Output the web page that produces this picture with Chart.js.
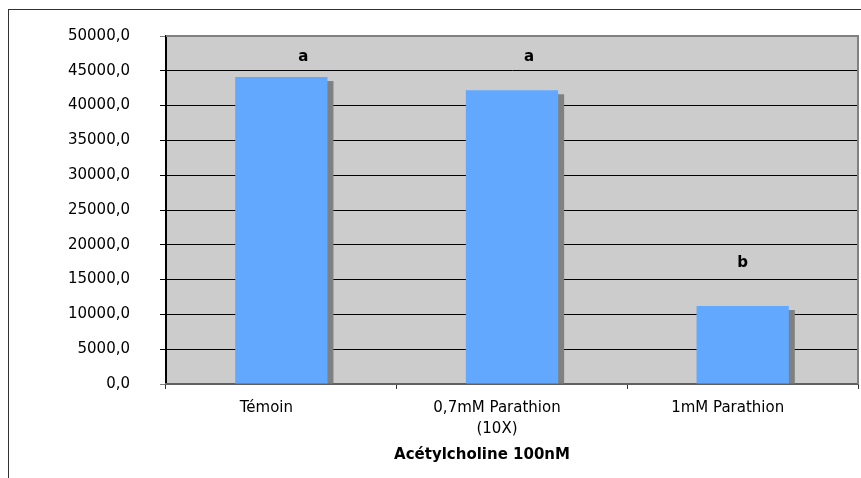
<!DOCTYPE html>
<html>
<head>
<meta charset="utf-8">
<script src="https://cdn.jsdelivr.net/npm/chart.js@4/dist/chart.umd.min.js"></script>
<style>
  html, body { margin: 0; padding: 0; background: #fff; overflow: hidden; }
  #frame {
    position: absolute; left: 8px; top: 9px;
    width: 1000px; height: 1000px;
    border: 1px solid #333;
  }
  #wrap { position: absolute; left: 9px; top: 10px; width: 946px; height: 470px; }
</style>
</head>
<body>
<div id="frame"></div>
<div id="wrap"><canvas id="chart"></canvas></div>
<script>
// data
const categories = ["Témoin", ["0,7mM Parathion", "(10X)"], "1mM Parathion"];
const values = [44100, 42200, 11200];
const sigLetters = ["a", "a", "b"];
const sigLevels = [47000, 47000, 17300];
const axisTitle = "Acétylcholine 100nM";

const FONT = "'DejaVu Sans', Verdana, sans-serif";

// grey plot background + frame
const plotBg = {
  id: "plotBg",
  beforeDraw(chart) {
    const { ctx, chartArea: a } = chart;
    ctx.save();
    ctx.fillStyle = "#cccccc";
    ctx.fillRect(a.left, a.top, a.right - a.left, a.bottom - a.top);
    ctx.restore();
  },
  afterDraw(chart) {
    const { ctx, chartArea: a } = chart;
    ctx.save();
    ctx.strokeStyle = "#808080";
    ctx.lineWidth = 2;
    ctx.beginPath();
    ctx.moveTo(a.left, a.top);
    ctx.lineTo(a.right, a.top);
    ctx.lineTo(a.right, a.bottom);
    ctx.stroke();
    // axis title, centred on the whole chart box like the original
    ctx.font = "bold 15px " + FONT;
    ctx.fillStyle = "#000";
    ctx.textAlign = "center";
    ctx.textBaseline = "middle";
    ctx.fillText(axisTitle, chart.width / 2, a.bottom + 71);
    ctx.restore();
  }
};

// gray shadow on the right side of each bar
const barShadow = {
  id: "barShadow",
  beforeDatasetsDraw(chart) {
    const ctx = chart.ctx;
    const meta = chart.getDatasetMeta(0);
    ctx.save();
    ctx.fillStyle = "#808080";
    meta.data.forEach((bar) => {
      const right = bar.x + bar.width / 2;
      ctx.fillRect(right - 1, bar.y + 4, 7, bar.base - bar.y - 4);
    });
    ctx.restore();
  }
};

// significance letters above the bars
const sigLabels = {
  id: "sigLabels",
  afterDatasetsDraw(chart, args, opts) {
    const { ctx, scales } = chart;
    ctx.save();
    ctx.font = "bold 15px " + FONT;
    ctx.fillStyle = "#000";
    ctx.textAlign = "center";
    ctx.textBaseline = "middle";
    sigLetters.forEach((txt, i) => {
      const x = scales.x.getPixelForValue(i) + (opts.shift[i] || 0);
      const y = scales.y.getPixelForValue(sigLevels[i]);
      ctx.fillText(txt, x, y);
    });
    ctx.restore();
  }
};

new Chart(document.getElementById("chart"), {
  type: "bar",
  data: {
    labels: categories,
    datasets: [{
      data: values,
      backgroundColor: "#62a8ff",
      borderWidth: 0,
      categoryPercentage: 1,
      barPercentage: 0.4
    }]
  },
  plugins: [plotBg, barShadow, sigLabels],
  options: {
    responsive: true,
    maintainAspectRatio: false,
    animation: false,
    layout: { padding: { left: 0, top: 26, right: 97, bottom: 33 } },
    plugins: {
      legend: { display: false },
      tooltip: { enabled: false },
      sigLabels: { shift: [22, 17, 0] },
      title: { display: false }
    },
    scales: {
      y: {
        min: 0,
        max: 50000,
        afterFit(scale) {
          scale.width = 157;
          // the big tick padding should not push the plot down
          scale.paddingTop = 8;
          scale.paddingBottom = 8;
        },
        ticks: {
          stepSize: 5000,
          padding: 30,
          color: "#000",
          font: { family: FONT, size: 15 },
          callback: (v) => v.toFixed(1).replace(".", ",")
        },
        grid: {
          color: (c) => (c.tick && (c.tick.value === 0 || c.tick.value === 50000)) ? "#808080" : "#000",
          lineWidth: 1,
          tickLength: 6
        },
        border: { color: "#000", width: 2 }
      },
      x: {
        afterFit(scale) { scale.height = 63; },
        ticks: {
          padding: 9,
          labelOffset: -15,
          color: "#000",
          font: { family: FONT, size: 15, lineHeight: 1.4 }
        },
        grid: {
          drawOnChartArea: false,
          color: "#333",
          tickLength: 5
        },
        border: { color: "#606060", width: 2 }
      }
    }
  }
});
</script>
</body>
</html>
